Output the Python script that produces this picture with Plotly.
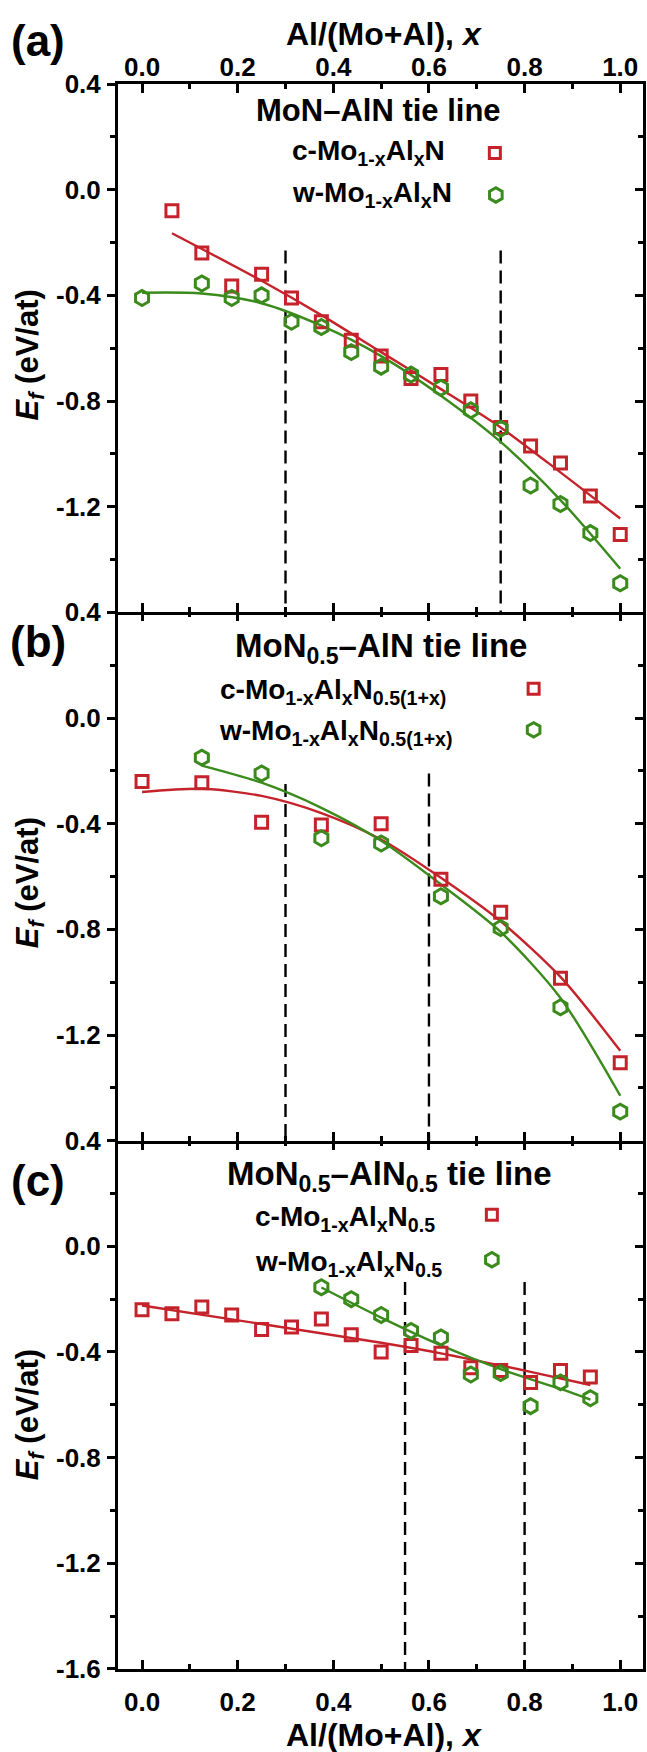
import plotly.graph_objects as go

# ---------------- data ----------------
# panel (a): MoN-AlN tie line
a_c_x = [0.0625, 0.125, 0.1875, 0.25, 0.3125, 0.375, 0.4375, 0.5, 0.5625, 0.625, 0.6875, 0.75, 0.8125, 0.875, 0.9375, 1.0]
a_c_y = [-0.08, -0.24, -0.365, -0.32, -0.41, -0.50, -0.57, -0.63, -0.715, -0.70, -0.80, -0.90, -0.97, -1.035, -1.16, -1.305]
a_w_x = [0.0, 0.125, 0.1875, 0.25, 0.3125, 0.375, 0.4375, 0.5, 0.5625, 0.625, 0.6875, 0.75, 0.8125, 0.875, 0.9375, 1.0]
a_w_y = [-0.41, -0.355, -0.41, -0.40, -0.50, -0.52, -0.615, -0.67, -0.70, -0.75, -0.835, -0.905, -1.12, -1.19, -1.30, -1.49]
a_c_fit_x = [0.0625, 0.25, 0.375, 0.5, 0.625, 0.75, 0.875, 1.0]
a_c_fit_y = [-0.165, -0.345, -0.475, -0.615, -0.755, -0.90, -1.07, -1.245]
a_w_fit_x = [0.0, 0.125, 0.25, 0.375, 0.5, 0.625, 0.75, 0.875, 1.0]
a_w_fit_y = [-0.39, -0.393, -0.43, -0.515, -0.63, -0.78, -0.955, -1.175, -1.435]
a_vlines = [0.30, 0.75]
a_vtops = [-0.23, -0.23]

# panel (b): MoN0.5-AlN tie line
b_c_x = [0.0, 0.125, 0.25, 0.375, 0.5, 0.625, 0.75, 0.875, 1.0]
b_c_y = [-0.24, -0.245, -0.395, -0.405, -0.40, -0.61, -0.735, -0.985, -1.305]
b_w_x = [0.125, 0.25, 0.375, 0.5, 0.625, 0.75, 0.875, 1.0]
b_w_y = [-0.15, -0.21, -0.455, -0.475, -0.675, -0.795, -1.095, -1.49]
b_c_fit_x = [0.0, 0.125, 0.25, 0.375, 0.5, 0.625, 0.75, 0.875, 1.0]
b_c_fit_y = [-0.28, -0.268, -0.295, -0.36, -0.46, -0.605, -0.77, -0.98, -1.26]
b_w_fit_x = [0.125, 0.25, 0.375, 0.5, 0.625, 0.75, 0.875, 1.0]
b_w_fit_y = [-0.18, -0.245, -0.34, -0.465, -0.63, -0.81, -1.06, -1.43]
b_vlines = [0.30, 0.60]
b_vtops = [-0.25, -0.21]

# panel (c): MoN0.5-AlN0.5 tie line
c_c_x = [0.0, 0.0625, 0.125, 0.1875, 0.25, 0.3125, 0.375, 0.4375, 0.5, 0.5625, 0.625, 0.6875, 0.75, 0.8125, 0.875, 0.9375]
c_c_y = [-0.24, -0.255, -0.23, -0.26, -0.315, -0.305, -0.275, -0.335, -0.40, -0.375, -0.405, -0.46, -0.47, -0.515, -0.47, -0.495]
c_w_x = [0.375, 0.4375, 0.5, 0.5625, 0.625, 0.6875, 0.75, 0.8125, 0.875, 0.9375]
c_w_y = [-0.155, -0.20, -0.26, -0.32, -0.345, -0.485, -0.48, -0.605, -0.515, -0.575]
c_c_fit_x = [0.0, 0.25, 0.5, 0.625, 0.8125, 0.9375]
c_c_fit_y = [-0.224, -0.294, -0.365, -0.405, -0.475, -0.525]
c_w_fit_x = [0.375, 0.5, 0.625, 0.75, 0.875, 0.9375]
c_w_fit_y = [-0.156, -0.27, -0.375, -0.465, -0.54, -0.58]
c_vlines = [0.55, 0.80]
c_vtops = [-0.135, -0.135]

x_ticks = [0.0, 0.2, 0.4, 0.6, 0.8, 1.0]
x_ticktext = ["0.0", "0.2", "0.4", "0.6", "0.8", "1.0"]
x_minor = [0.1, 0.3, 0.5, 0.7, 0.9]
y_ticks = [-1.6, -1.2, -0.8, -0.4, 0.0, 0.4]
y_ticktext_top = ["", "-1.2", "-0.8", "-0.4", "0.0", "0.4"]
y_ticktext_bot = ["-1.6", "-1.2", "-0.8", "-0.4", "0.0", "0.4"]
y_minor = [-1.4, -1.0, -0.6, -0.2, 0.2]

panel_titles = ["MoN–AlN tie line", "MoN<sub>0.5</sub>–AlN tie line", "MoN<sub>0.5</sub>–AlN<sub>0.5</sub> tie line"]
legend_c = ["c-Mo<sub>1-x</sub>Al<sub>x</sub>N", "c-Mo<sub>1-x</sub>Al<sub>x</sub>N<sub>0.5(1+x)</sub>", "c-Mo<sub>1-x</sub>Al<sub>x</sub>N<sub>0.5</sub>"]
legend_w = ["w-Mo<sub>1-x</sub>Al<sub>x</sub>N", "w-Mo<sub>1-x</sub>Al<sub>x</sub>N<sub>0.5(1+x)</sub>", "w-Mo<sub>1-x</sub>Al<sub>x</sub>N<sub>0.5</sub>"]
panel_tags = ["(a)", "(b)", "(c)"]

# ---------------- style / layout ----------------
W, H = 647, 1752
L, R, T, B = 118, 646, 84, 1669.4
RED = "#c4232b"
GREEN = "#3a8a1c"
FONT = "Liberation Sans, Arial, sans-serif"
XR = [-0.0503, 1.0476]
YR = [-1.6, 0.4]


def px(xp):
    return (xp - L) / (R - L)


def py(yp):
    return (B - yp) / (B - T)


fig = go.Figure()

panels = [
    (a_c_x, a_c_y, a_w_x, a_w_y, a_c_fit_x, a_c_fit_y, a_w_fit_x, a_w_fit_y, a_vlines, a_vtops),
    (b_c_x, b_c_y, b_w_x, b_w_y, b_c_fit_x, b_c_fit_y, b_w_fit_x, b_w_fit_y, b_vlines, b_vtops),
    (c_c_x, c_c_y, c_w_x, c_w_y, c_c_fit_x, c_c_fit_y, c_w_fit_x, c_w_fit_y, c_vlines, c_vtops),
]

shapes = []
for i, (cx, cy, wx, wy, cfx, cfy, wfx, wfy, vl, vt) in enumerate(panels):
    xa = "x" if i == 0 else f"x{i+1}"
    ya = "y" if i == 0 else f"y{i+1}"
    fig.add_trace(go.Scatter(x=cfx, y=cfy, mode="lines", line=dict(color=RED, width=2.4, shape="spline", smoothing=0.8),
                             xaxis=xa, yaxis=ya, showlegend=False, hoverinfo="skip"))
    fig.add_trace(go.Scatter(x=wfx, y=wfy, mode="lines", line=dict(color=GREEN, width=2.4, shape="spline", smoothing=0.8),
                             xaxis=xa, yaxis=ya, showlegend=False, hoverinfo="skip"))
    fig.add_trace(go.Scatter(x=cx, y=cy, mode="markers",
                             marker=dict(symbol="square-open", size=12, color=RED, line=dict(width=3, color=RED)),
                             xaxis=xa, yaxis=ya, showlegend=False, cliponaxis=False))
    fig.add_trace(go.Scatter(x=wx, y=wy, mode="markers",
                             marker=dict(symbol="hexagon-open", size=15, color=GREEN, line=dict(width=3, color=GREEN)),
                             xaxis=xa, yaxis=ya, showlegend=False, cliponaxis=False))
    for xv, top in zip(vl, vt):
        shapes.append(dict(type="line", xref=xa, yref=ya, x0=xv, x1=xv, y0=top, y1=YR[0],
                           line=dict(color="black", width=2.4, dash="13px,7px"), layer="below"))

# invisible traces for overlay axes (right-side ticks, top ticks/labels)
for ax_x, ax_y in [("x", "y4"), ("x2", "y5"), ("x3", "y6"), ("x4", "y"), ("x5", "y2"), ("x6", "y3")]:
    fig.add_trace(go.Scatter(x=[None], y=[None], xaxis=ax_x, yaxis=ax_y, showlegend=False, hoverinfo="skip"))

tickfont = dict(family=FONT, size=26, color="black", weight="bold")
domains = [[2/3, 1.0], [1/3, 2/3], [0.0, 1/3]]
layout = dict(
    width=W, height=H, autosize=False,
    margin=dict(l=L, r=W - R, t=T, b=H - B, pad=0),
    paper_bgcolor="white", plot_bgcolor="white",
    showlegend=False, font=dict(family=FONT, color="black"),
)
xminor = dict(tickvals=x_minor, ticks="inside", ticklen=5, tickwidth=2.5, tickcolor="black")
for i in range(3):
    xk = "xaxis" if i == 0 else f"xaxis{i+1}"
    yk = "yaxis" if i == 0 else f"yaxis{i+1}"
    ya = "y" if i == 0 else f"y{i+1}"
    xa = "x" if i == 0 else f"x{i+1}"
    layout[xk] = dict(
        range=XR, domain=[0, 1], anchor=ya, showgrid=False, zeroline=False,
        showline=True, linecolor="black", linewidth=3, mirror=("ticks" if i == 0 else False),
        ticks="inside", ticklen=9, tickwidth=2.5, tickcolor="black",
        tickmode="array", tickvals=x_ticks, ticktext=x_ticktext,
        minor=xminor,
        showticklabels=(i == 2), tickfont=tickfont, ticklabelstandoff=8,
    )
    layout[yk] = dict(
        range=YR, domain=domains[i], anchor=xa, showgrid=False, zeroline=False,
        showline=True, linecolor="black", linewidth=3, mirror=True,
        ticks="outside", ticklen=8, tickwidth=2.5, tickcolor="black",
        tickmode="array", tickvals=y_ticks,
        ticktext=(y_ticktext_bot if i == 2 else y_ticktext_top),
        minor=dict(tickvals=y_minor, ticks="outside", ticklen=5, tickwidth=2.5, tickcolor="black"),
        tickfont=tickfont, ticklabelstandoff=1,
    )
    # right-side inward ticks
    layout[f"yaxis{i+4}"] = dict(
        range=YR, overlaying=ya, side="right", anchor=xa, showgrid=False, zeroline=False,
        showline=False, ticks="inside", ticklen=8, tickwidth=2.5, tickcolor="black",
        tickmode="array", tickvals=y_ticks, showticklabels=False,
        minor=dict(tickvals=y_minor, ticks="inside", ticklen=5, tickwidth=2.5, tickcolor="black"),
    )
# top labels of panel (a)
layout["xaxis4"] = dict(
    range=XR, overlaying="x", side="top", anchor="y", showgrid=False, zeroline=False,
    showline=False, ticks="", tickmode="array", tickvals=x_ticks, ticktext=x_ticktext,
    tickfont=tickfont, ticklabelstandoff=2,
)
# top inward ticks of panels (b) and (c) (no extra line at the shared boundary)
for k, (ov, an) in zip([5, 6], [("x2", "y2"), ("x3", "y3")]):
    layout[f"xaxis{k}"] = dict(
        range=XR, overlaying=ov, side="top", anchor=an, showgrid=False, zeroline=False,
        showline=False, ticks="inside", ticklen=9, tickwidth=2.5, tickcolor="black",
        tickmode="array", tickvals=x_ticks, showticklabels=False, minor=xminor,
    )

# legend markers (pixel-sized shapes)
hexpath = "M6.3,-3.6 V3.6 L0,7.2 L-6.3,3.6 V-3.6 L0,-7.2 Z"
leg_c_pos = [(497, 153), (536, 689), (494, 1215)]
leg_w_pos = [(498, 195), (536, 730), (494, 1260)]
for (xc, yc), (xw, yw) in zip(leg_c_pos, leg_w_pos):
    shapes.append(dict(type="rect", xref="paper", yref="paper", xsizemode="pixel", ysizemode="pixel",
                       xanchor=px(xc), yanchor=py(yc), x0=-5.5, x1=5.5, y0=-5.5, y1=5.5,
                       line=dict(color=RED, width=3), fillcolor="rgba(0,0,0,0)"))
    shapes.append(dict(type="path", xref="paper", yref="paper", xsizemode="pixel", ysizemode="pixel",
                       xanchor=px(xw), yanchor=py(yw), path=hexpath,
                       line=dict(color=GREEN, width=3), fillcolor="rgba(0,0,0,0)"))
layout["shapes"] = shapes

ann = []


def add_text(text, xp, yp, size, xanchor="center", yanchor="middle", angle=0):
    ann.append(dict(text=text, x=px(xp), y=py(yp), xref="paper", yref="paper", showarrow=False,
                    xanchor=xanchor, yanchor=yanchor, textangle=angle,
                    font=dict(family=FONT, size=size, color="black", weight="bold")))


add_text("Al/(Mo+Al), <i>x</i>", 386, 34, 32)
add_text("Al/(Mo+Al), <i>x</i>", 386, 1735, 32)
tag_y = [40, 642, 1181]
title_pos = [(380, 111), (383, 648), (391, 1176)]
title_size = [31, 33, 33]
ytitle_y = [355, 883, 1415]
leg_c_text = [(370, 153), (334, 692), (346, 1219)]
leg_w_text = [(373, 195), (337, 733), (350, 1264)]
for i in range(3):
    add_text(panel_tags[i], 38, tag_y[i], 44)
    add_text(panel_titles[i], title_pos[i][0], title_pos[i][1], title_size[i])
    add_text("<i>E</i><sub><i>f</i></sub> (eV/at)", 29, ytitle_y[i], 31, angle=-90)
    add_text(legend_c[i], leg_c_text[i][0], leg_c_text[i][1], 28)
    add_text(legend_w[i], leg_w_text[i][0], leg_w_text[i][1], 28)
layout["annotations"] = ann

fig.update_layout(**layout)
fig.write_html("out.html")
